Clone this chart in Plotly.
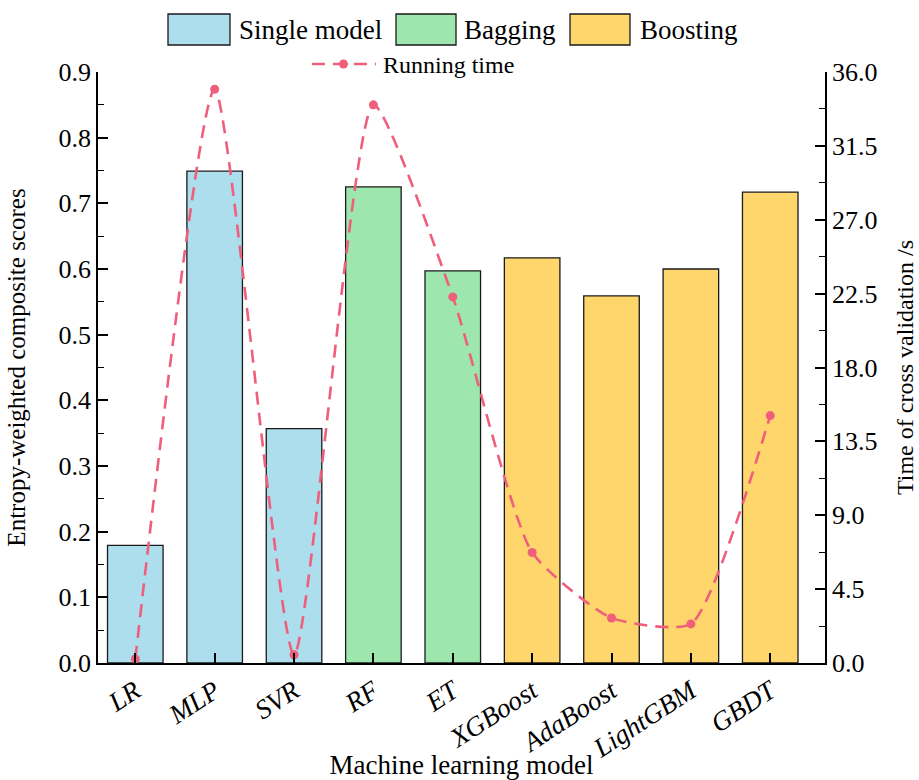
import plotly.graph_objects as go

models = ["LR", "MLP", "SVR", "RF", "ET", "XGBoost", "AdaBoost", "LightGBM", "GBDT"]
groups = ["Single model", "Single model", "Single model", "Bagging", "Bagging",
          "Boosting", "Boosting", "Boosting", "Boosting"]
scores = [0.179, 0.749, 0.357, 0.725, 0.597, 0.617, 0.559, 0.600, 0.717]
run_time = [0.25, 34.95, 0.5, 34.0, 22.3, 6.73, 2.74, 2.38, 15.07]

group_names = ["Single model", "Bagging", "Boosting"]
group_colors = {"Single model": "#ADDEEE", "Bagging": "#9DE7AE", "Boosting": "#FED66B"}
line_color = "#EF5F7B"

FONT = "Liberation Serif, Times New Roman, DejaVu Serif, serif"
W, H = 919, 780
ML, MR, MT, MB = 98, 94, 72, 117

fig = go.Figure()
for g in group_names:
    xs = [m for m, gg in zip(models, groups) if gg == g]
    ys = [s for s, gg in zip(scores, groups) if gg == g]
    fig.add_trace(go.Bar(
        x=xs, y=ys, name=g, width=0.7,
        marker=dict(color=group_colors[g], line=dict(color="#1a1a1a", width=1.3)),
        showlegend=False,
    ))

fig.add_trace(go.Scatter(
    x=models, y=run_time, yaxis="y2", mode="lines+markers", name="Running time",
    line=dict(color=line_color, width=2.6, dash="13px,8px", shape="spline", smoothing=0.55),
    marker=dict(color=line_color, size=9),
    showlegend=False,
))

pw = W - ML - MR
ph = H - MT - MB


def px(x):
    return (x - ML) / pw


def py(y):
    return (H - MB - y) / ph


shapes = []
annotations = []
legend_items = [("Single model", 168, 230, 237), ("Bagging", 396, 456, 462), ("Boosting", 570, 630, 638)]
for name, x0, x1, tx in legend_items:
    shapes.append(dict(type="rect", xref="paper", yref="paper",
                       x0=px(x0), x1=px(x1), y0=py(45), y1=py(14),
                       fillcolor=group_colors[name], line=dict(color="#1a1a1a", width=1.3)))
    annotations.append(dict(text=name, xref="paper", yref="paper", x=px(tx), y=py(30),
                            xanchor="left", yanchor="middle", showarrow=False,
                            font=dict(family=FONT, size=27, color="black")))
shapes.append(dict(type="line", xref="paper", yref="paper",
                   x0=px(312), x1=px(376), y0=py(64), y1=py(64),
                   line=dict(color=line_color, width=2.6, dash="13px,8px")))
shapes.append(dict(type="circle", xref="paper", yref="paper",
                   x0=px(339), x1=px(348), y0=py(68.5), y1=py(59.5),
                   fillcolor=line_color, line=dict(color=line_color, width=0)))
annotations.append(dict(text="Running time", xref="paper", yref="paper", x=px(381), y=py(65),
                        xanchor="left", yanchor="middle", showarrow=False,
                        font=dict(family=FONT, size=24, color="black")))

fig.update_layout(
    width=W, height=H,
    margin=dict(l=ML, r=MR, t=MT, b=MB, pad=0),
    plot_bgcolor="white", paper_bgcolor="white",
    barmode="overlay",
    font=dict(family=FONT, size=25, color="black"),
    shapes=shapes, annotations=annotations,
    xaxis=dict(
        type="category", categoryorder="array", categoryarray=models,
        range=[-0.47, 8.69],
        showline=True, linecolor="black", linewidth=1.6,
        ticks="inside", ticklen=10, tickwidth=1.6, tickcolor="black",
        tickangle=-33,
        tickfont=dict(family=FONT, size=27, color="black", style="italic"),
        title=dict(text="Machine learning model", font=dict(family=FONT, size=27), standoff=18),
        showgrid=False, zeroline=False,
        automargin=False,
    ),
    yaxis=dict(
        range=[0, 0.9], dtick=0.1, tickformat=".1f",
        showline=True, linecolor="black", linewidth=1.6,
        ticks="inside", ticklen=10, tickwidth=1.6, tickcolor="black",
        minor=dict(dtick=0.05, ticks="inside", ticklen=6, tickwidth=1.4, tickcolor="black"),
        tickfont=dict(family=FONT, size=26, color="black"),
        title=dict(text="Entropy-weighted composite scores", font=dict(family=FONT, size=25), standoff=26),
        showgrid=False, zeroline=False,
        automargin=False,
    ),
    yaxis2=dict(
        overlaying="y", side="right",
        range=[0, 36], dtick=4.5, tickformat=".1f",
        showline=True, linecolor="black", linewidth=1.6,
        ticks="inside", ticklen=10, tickwidth=1.6, tickcolor="black",
        minor=dict(dtick=2.25, ticks="inside", ticklen=6, tickwidth=1.4, tickcolor="black"),
        tickfont=dict(family=FONT, size=26, color="black"),
        title=dict(text="Time of cross validation /s", font=dict(family=FONT, size=24), standoff=20),
        showgrid=False, zeroline=False,
        automargin=False,
    ),
)

fig.write_html("out.html")
